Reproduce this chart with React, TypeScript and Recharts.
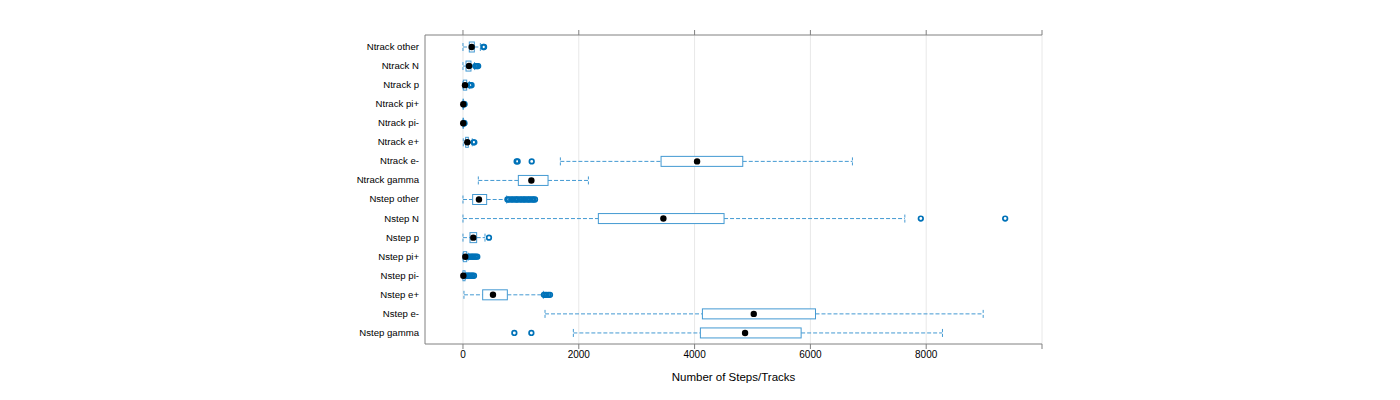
import React from 'react';
import { ComposedChart, Bar, XAxis, YAxis, CartesianGrid } from 'recharts';

const categories = [
  'Ntrack other', 'Ntrack N', 'Ntrack p', 'Ntrack pi+', 'Ntrack pi-', 'Ntrack e+', 'Ntrack e-', 'Ntrack gamma',
  'Nstep other', 'Nstep N', 'Nstep p', 'Nstep pi+', 'Nstep pi-', 'Nstep e+', 'Nstep e-', 'Nstep gamma',
];
const whiskerLow = [0, 0, 0, 0, 0, 5, 1682, 265, 0, 0, 0, 0, 0, 17, 1417, 1906];
const q1 = [109, 52, 6, 0, 0, 46, 3421, 956, 167, 2338, 121, 6, 0, 340, 4135, 4100];
const medians = [150, 104, 35, 5, 4, 75, 4043, 1181, 276, 3461, 178, 40, 6, 518, 5022, 4872];
const q3 = [196, 138, 64, 8, 7, 92, 4832, 1469, 409, 4509, 236, 64, 35, 766, 6088, 5840];
const whiskerHigh = [300, 200, 110, 15, 14, 160, 6726, 2166, 754, 7631, 380, 90, 40, 1388, 8984, 8281];
const outliers: number[][] = [
  [352, 364],
  [212, 231, 248, 262],
  [118, 133, 148],
  [19, 27],
  [18, 26],
  [182, 196],
  [927, 944, 1187],
  [],
  [768, 795, 833, 861, 897, 925, 948, 986, 1012, 1047, 1069, 1104, 1133, 1158, 1193, 1217, 1244],
  [7907, 9364],
  [449],
  [97, 118, 143, 162, 181, 204, 223, 247],
  [48, 69, 92, 108, 131, 152, 168, 190],
  [1398, 1421, 1447, 1478, 1503],
  [],
  [887, 1181],
];
const xTicks = [0, 2000, 4000, 6000, 8000, 10000];
const xDomain = [-656, 10000];

const rows = categories.map((name, i) => ({
  name,
  lo: whiskerLow[i],
  q1: q1[i],
  med: medians[i],
  q3: q3[i],
  hi: whiskerHigh[i],
  out: outliers[i],
}));

const BOX = '#4399d2';
const OUT = '#0072b8';
const FRAME = '#808080';

const BoxShape = (props: any) => {
  const { x, y, width, height, payload } = props;
  if (!payload) return null;
  const p = payload;
  const px = (v: number) => x + ((v - p.lo) / (p.hi - p.lo)) * width;
  const cy = y + height / 2;
  const capH = height * 0.8;
  return (
    <g>
      <line x1={px(p.lo)} x2={px(p.q1)} y1={cy} y2={cy} stroke={BOX} strokeDasharray="4 2" strokeWidth={1} />
      <line x1={px(p.q3)} x2={px(p.hi)} y1={cy} y2={cy} stroke={BOX} strokeDasharray="4 2" strokeWidth={1} />
      <line x1={px(p.lo)} x2={px(p.lo)} y1={cy - capH / 2} y2={cy + capH / 2} stroke={BOX} strokeDasharray="3 2" strokeWidth={1} />
      <line x1={px(p.hi)} x2={px(p.hi)} y1={cy - capH / 2} y2={cy + capH / 2} stroke={BOX} strokeDasharray="3 2" strokeWidth={1} />
      <rect x={px(p.q1)} y={y} width={Math.max(px(p.q3) - px(p.q1), 0.5)} height={height} fill="#ffffff" stroke={BOX} strokeWidth={1} />
      {p.out.map((v: number, k: number) => (
        <circle key={k} cx={px(v)} cy={cy} r={2.3} fill="none" stroke={OUT} strokeWidth={1.7} />
      ))}
      <circle cx={px(p.med)} cy={cy} r={3.2} fill="#000000" />
    </g>
  );
};

export default function App() {
  return (
    <div style={{ fontFamily: '"Liberation Sans", Arial, sans-serif' }}>
      <ComposedChart
        width={1384}
        height={384}
        layout="vertical"
        data={rows}
        margin={{ top: 22, right: 350, bottom: 8, left: 317 }}
      >
        <CartesianGrid xAxisId="b" yAxisId="l" vertical horizontal={false} stroke="#e8e8e8" verticalValues={xTicks} />
        <XAxis
          xAxisId="b"
          type="number"
          orientation="bottom"
          domain={xDomain}
          allowDataOverflow
          ticks={xTicks}
          tickFormatter={(v: number) => (v === 10000 ? '' : String(v))}
          height={40}
          tickSize={5}
          stroke={FRAME}
          tick={{ fill: '#000000', fontSize: 10 }}
          label={{ value: 'Number of Steps/Tracks', position: 'insideBottom', offset: 3, fill: '#000000', fontSize: 11.5 }}
        />
        <XAxis
          xAxisId="t"
          type="number"
          orientation="top"
          domain={xDomain}
          allowDataOverflow
          ticks={xTicks}
          tickFormatter={() => ''}
          height={5}
          tickSize={5}
          stroke={FRAME}
        />
        <YAxis
          yAxisId="l"
          type="category"
          dataKey="name"
          width={100}
          tickLine={false}
          tickSize={0}
          tickMargin={6}
          stroke={FRAME}
          tick={{ fill: '#000000', fontSize: 9.6 }}
          padding={{ top: 2, bottom: 2 }}
          interval={0}
        />
        <YAxis
          yAxisId="r"
          type="category"
          dataKey="name"
          orientation="right"
          width={0}
          tickLine={false}
          tick={false}
          stroke={FRAME}
          padding={{ top: 2, bottom: 2 }}
        />
        <Bar
          xAxisId="b"
          yAxisId="l"
          dataKey={(d: any) => [d.lo, d.hi]}
          barSize={10}
          shape={BoxShape}
          isAnimationActive={false}
        />
      </ComposedChart>
    </div>
  );
}
